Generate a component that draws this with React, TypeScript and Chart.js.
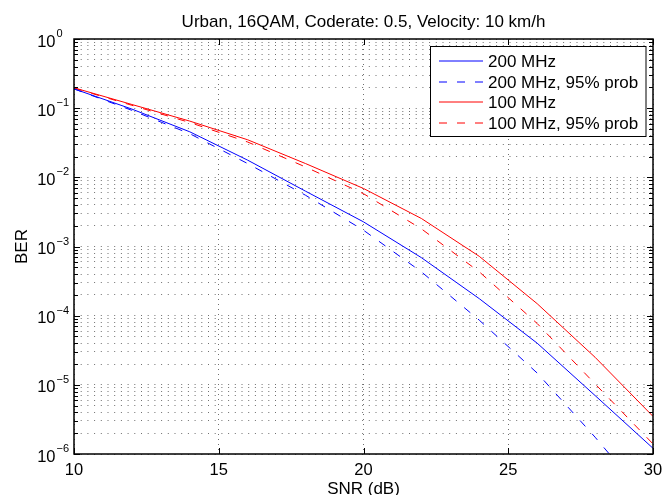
import { useEffect, useRef } from 'react';
import { Chart, registerables } from 'chart.js';

Chart.register(...registerables);

const snrDb = [10, 12, 14, 16, 18, 20, 22, 24, 26, 28, 30];
const ber200MHz = [0.19, 0.097, 0.0455, 0.0177, 6.3e-3, 2.27e-3, 6.9e-4, 1.76e-4, 4.0e-5, 7.0e-6, 1.21e-6];
const ber200MHz95 = [0.19, 0.093, 0.0427, 0.0158, 5.5e-3, 1.72e-3, 4.3e-4, 8.6e-5, 1.48e-5, 1.75e-6, 1.8e-7];
const ber100MHz = [0.197, 0.113, 0.065, 0.0349, 0.0158, 6.9e-3, 2.54e-3, 7.2e-4, 1.49e-4, 2.5e-5, 3.5e-6];
const ber100MHz95 = [0.195, 0.11, 0.062, 0.0324, 0.0141, 5.8e-3, 1.8e-3, 4.3e-4, 7.7e-5, 1.03e-5, 1.4e-6];

const seriesLabels = ['200 MHz', '200 MHz, 95% prob', '100 MHz', '100 MHz, 95% prob'];
const xTickValues = [10, 15, 20, 25, 30];
const yDecadeExponents = [-6, -5, -4, -3, -2, -1, 0];
const yMinorMantissas = [1, 2, 3, 4, 5, 6, 7, 8, 9];
const titleText = 'Urban, 16QAM, Coderate: 0.5, Velocity: 10 km/h';
const xAxisTitle = 'SNR (dB)';
const yAxisTitle = 'BER';

const FONT = '"Liberation Sans", Arial, Helvetica, sans-serif';
const DASH = [8, 10];
const GRID = '#707070';

const framePlugin = {
  id: 'matlabFrame',
  afterDraw(chart: any) {
    const { ctx, chartArea } = chart;
    const { left, right, top, bottom } = chartArea;
    const xs = chart.scales.x;
    const ys = chart.scales.y;
    ctx.save();

    // ticks (inward)
    ctx.strokeStyle = '#000';
    ctx.lineWidth = 1;
    ctx.setLineDash([]);
    ys.ticks.forEach((t: any) => {
      const py = Math.round(ys.getPixelForValue(t.value)) + 0.5;
      const len = t.major ? 6 : 4;
      ctx.beginPath();
      ctx.moveTo(left, py);
      ctx.lineTo(left + len, py);
      ctx.moveTo(right, py);
      ctx.lineTo(right - len, py);
      ctx.stroke();
    });
    xs.ticks.forEach((t: any) => {
      const px = Math.round(xs.getPixelForValue(t.value)) + 0.5;
      ctx.beginPath();
      ctx.moveTo(px, bottom);
      ctx.lineTo(px, bottom - 6);
      ctx.moveTo(px, top);
      ctx.lineTo(px, top + 6);
      ctx.stroke();
    });

    // frame
    ctx.lineWidth = 1.5;
    ctx.strokeRect(left, top, right - left, bottom - top);

    ctx.fillStyle = '#000';
    // y tick labels 10^n
    ys.ticks.forEach((t: any) => {
      if (!t.major) return;
      const py = ys.getPixelForValue(t.value);
      const e = Math.round(Math.log10(t.value));
      ctx.font = `16.5px ${FONT}`;
      ctx.textAlign = 'right';
      ctx.textBaseline = 'alphabetic';
      ctx.fillText('10', left - 18.5, py + 7.5);
      ctx.font = `11px ${FONT}`;
      ctx.textAlign = 'left';
      ctx.fillText(e === 0 ? '0' : '\u2212' + Math.abs(e), left - 17.5, py - 2);
    });
    // x tick labels
    ctx.font = `16.5px ${FONT}`;
    ctx.textAlign = 'center';
    ctx.textBaseline = 'alphabetic';
    xs.ticks.forEach((t: any) => {
      const px = xs.getPixelForValue(t.value);
      ctx.fillText(String(t.value), px, 475);
    });

    // titles
    const cx = (left + right) / 2;
    ctx.font = `17px ${FONT}`;
    ctx.fillText(titleText, cx, 26.5);
    ctx.fillText(xAxisTitle, cx, 494);
    ctx.save();
    ctx.translate(26.5, (top + bottom) / 2);
    ctx.rotate(-Math.PI / 2);
    ctx.fillText(yAxisTitle, 0, 0);
    ctx.restore();

    // legend
    const lx = 430, ly = 46, lw = 215.5, lh = 90;
    ctx.fillStyle = '#fff';
    ctx.fillRect(lx, ly, lw, lh);
    ctx.strokeStyle = '#000';
    ctx.lineWidth = 1;
    ctx.strokeRect(lx + 0.5, ly + 0.5, lw, lh);
    chart.data.datasets.forEach((ds: any, i: number) => {
      const ry = 60.7 + i * 20.8;
      const lineY = Math.round(ry);
      ctx.strokeStyle = ds.borderColor;
      ctx.lineWidth = 1;
      ctx.setLineDash(ds.borderDash || []);
      ctx.beginPath();
      ctx.moveTo(439, lineY);
      ctx.lineTo(483, lineY);
      ctx.stroke();
      ctx.setLineDash([]);
      ctx.fillStyle = '#000';
      ctx.font = `17px ${FONT}`;
      ctx.textAlign = 'left';
      ctx.fillText(ds.label, 488, ry + 6);
    });

    ctx.restore();
  },
};

export default function App() {
  const canvasRef = useRef<HTMLCanvasElement | null>(null);

  useEffect(() => {
    if (!canvasRef.current) return;
    const mk = (vals: number[]) => snrDb.map((x, i) => ({ x, y: vals[i] }));
    const chart = new Chart(canvasRef.current, {
      type: 'line',
      data: {
        datasets: [
          { label: seriesLabels[0], data: mk(ber200MHz), borderColor: '#0000ff', borderWidth: 1, pointRadius: 0, fill: false, tension: 0, clip: 0 },
          { label: seriesLabels[1], data: mk(ber200MHz95), borderColor: '#0000ff', borderWidth: 1, borderDash: DASH, pointRadius: 0, fill: false, tension: 0, clip: 0 },
          { label: seriesLabels[2], data: mk(ber100MHz), borderColor: '#ff0000', borderWidth: 1, pointRadius: 0, fill: false, tension: 0, clip: 0 },
          { label: seriesLabels[3], data: mk(ber100MHz95), borderColor: '#ff0000', borderWidth: 1, borderDash: DASH, pointRadius: 0, fill: false, tension: 0, clip: 0 },
        ] as any,
      },
      options: {
        animation: false,
        responsive: true,
        maintainAspectRatio: false,
        devicePixelRatio: 1,
        layout: { padding: { left: 74, right: 9, top: 39, bottom: 41 } },
        plugins: { legend: { display: false }, title: { display: false }, tooltip: { enabled: false } },
        scales: {
          x: {
            type: 'linear',
            min: 10,
            max: 30,
            afterBuildTicks: (scale: any) => {
              scale.ticks = xTickValues.map((v) => ({ value: v, major: true }));
            },
            ticks: { display: false },
            grid: { color: GRID, lineWidth: 1, drawTicks: false },
            border: { display: false, dash: [1, 4] },
          },
          y: {
            type: 'logarithmic',
            min: 1e-6,
            max: 1,
            afterBuildTicks: (scale: any) => {
              const ticks: any[] = [];
              yDecadeExponents.forEach((e) => {
                yMinorMantissas.forEach((m) => {
                  const v = m * Math.pow(10, e);
                  if (v <= 1 + 1e-12) ticks.push({ value: v, major: m === 1 });
                });
              });
              scale.ticks = ticks;
            },
            ticks: { display: false },
            grid: { color: GRID, lineWidth: 1, drawTicks: false },
            border: { display: false, dash: [1, 5.7] },
          },
        },
      } as any,
      plugins: [framePlugin],
    });
    return () => chart.destroy();
  }, []);

  return (
    <div style={{ position: 'absolute', left: 0, top: 0, width: 662, height: 495, background: '#fff' }}>
      <canvas ref={canvasRef} />
    </div>
  );
}
